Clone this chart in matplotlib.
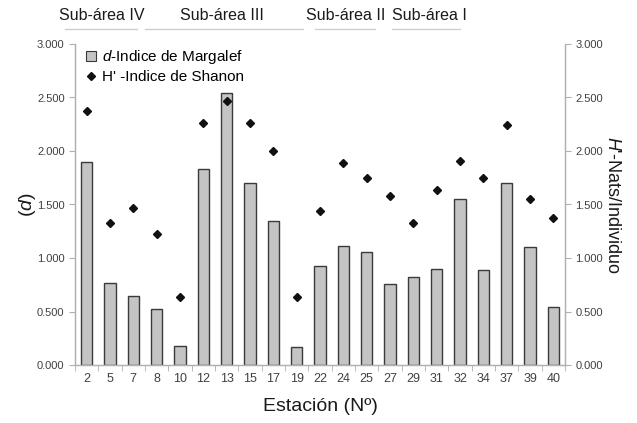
"""Margalef (d) and Shannon (H') diversity per station, with sub-area headers."""

import matplotlib
import numpy as np

matplotlib.use("Agg")
import matplotlib.pyplot as plt
from matplotlib.lines import Line2D
from matplotlib.patches import Patch

plt.rcParams["font.family"] = ["Liberation Sans", "DejaVu Sans"]
plt.rcParams["mathtext.fontset"] = "custom"
plt.rcParams["mathtext.it"] = "Liberation Sans:italic"
plt.rcParams["mathtext.rm"] = "Liberation Sans"

# ---------------------------------------------------------------------------
# Data
# ---------------------------------------------------------------------------
STATIONS = ["2", "5", "7", "8", "10", "12", "13", "15", "17", "19", "22",
            "24", "25", "27", "29", "31", "32", "34", "37", "39", "40"]
MARGALEF_D = [1.90, 0.77, 0.645, 0.52, 0.18, 1.83, 2.54, 1.70, 1.35, 0.17, 0.925,
              1.115, 1.06, 0.757, 0.82, 0.90, 1.55, 0.89, 1.70, 1.10, 0.54]
SHANNON_H = [2.37, 1.33, 1.47, 1.22, 0.64, 2.26, 2.47, 2.26, 2.00, 0.64, 1.44,
             1.89, 1.75, 1.58, 1.33, 1.64, 1.91, 1.75, 2.24, 1.55, 1.37]

YTICKS = [0.0, 0.5, 1.0, 1.5, 2.0, 2.5, 3.0]

SUBAREAS = ["Sub-área IV", "Sub-área III", "Sub-área II", "Sub-área I"]
# header text left edge and underline extent, in figure pixels
SUB_TEXT_X = [59, 180, 306, 392]
SUB_LINE_X = [(65, 137), (145, 303), (315, 375), (392, 460)]

W, H = 637, 423
TICK_COLOR = "#404040"
SPINE_COLOR = "#b0b0b0"


def fmt(v: float) -> str:
    return f"{v:.3f}"


fig = plt.figure(figsize=(W / 100, H / 100), dpi=100)
ax = fig.add_axes([75 / W, 1 - 365 / H, 490 / W, 321 / H])

x = np.arange(len(STATIONS))
ax.bar(x, MARGALEF_D, width=0.48, color="#c4c4c4", edgecolor="#3a3a3a",
       linewidth=1.0, zorder=2)

ax2 = ax.twinx()
ax2.plot(x, SHANNON_H, linestyle="none", marker="D", markersize=4.5,
         color="#111111", zorder=3)

for a in (ax, ax2):
    a.set_ylim(0, 3.0)
    a.set_yticks(YTICKS)
    a.set_yticklabels([fmt(v) for v in YTICKS])
    a.tick_params(axis="y", labelsize=8, colors=SPINE_COLOR, labelcolor=TICK_COLOR,
                  length=4, width=0.8)
    a.spines["top"].set_visible(False)
    for s in ("left", "right", "bottom"):
        a.spines[s].set_color(SPINE_COLOR)
        a.spines[s].set_linewidth(0.9)

ax.set_xlim(-0.5, len(STATIONS) - 0.5)
ax.set_xticks(x)
ax.set_xticklabels(STATIONS)
ax.set_xticks(np.arange(-0.5, len(STATIONS)), minor=True)
ax.tick_params(axis="x", which="major", length=0, labelsize=9,
               labelcolor=TICK_COLOR, pad=6)
ax.tick_params(axis="x", which="minor", length=4, color=SPINE_COLOR)
ax.tick_params(axis="y", which="both", right=False)
ax2.tick_params(axis="y", left=False)

ax.set_xlabel("Estación (Nº)", fontsize=14, color="#1a1a1a", labelpad=9)
ax.set_ylabel(r"($\it{d}$)", fontsize=14, color="#1a1a1a", labelpad=-1)
ax2.set_ylabel(r"$\it{H}$'-Nats/Individuo", fontsize=13, color="#1a1a1a",
               rotation=-90, labelpad=13)

handles = [
    Patch(facecolor="#c4c4c4", edgecolor="#3a3a3a", linewidth=0.8,
          label=r"$\it{d}$-Indice de Margalef"),
    Line2D([], [], linestyle="none", marker="D", markersize=4.5, color="#111111",
           label="H' -Indice de Shanon"),
]
ax.legend(handles=handles, loc="upper left", bbox_to_anchor=(0.0, 1.02),
          frameon=False, fontsize=11, handlelength=0.7, handleheight=0.7,
          handletextpad=0.4, labelspacing=0.25, borderaxespad=0.3)

# sub-area headers above the plot
for name, tx, (x0, x1) in zip(SUBAREAS, SUB_TEXT_X, SUB_LINE_X):
    fig.text(tx / W, 1 - 16 / H, name, ha="left", va="center",
             fontsize=11.5, color="#1a1a1a")
    fig.add_artist(Line2D([x0 / W, x1 / W], [1 - 29 / H, 1 - 29 / H],
                          color="#d0d0d0", linewidth=1.0))

fig.savefig("out.png", dpi=100)
